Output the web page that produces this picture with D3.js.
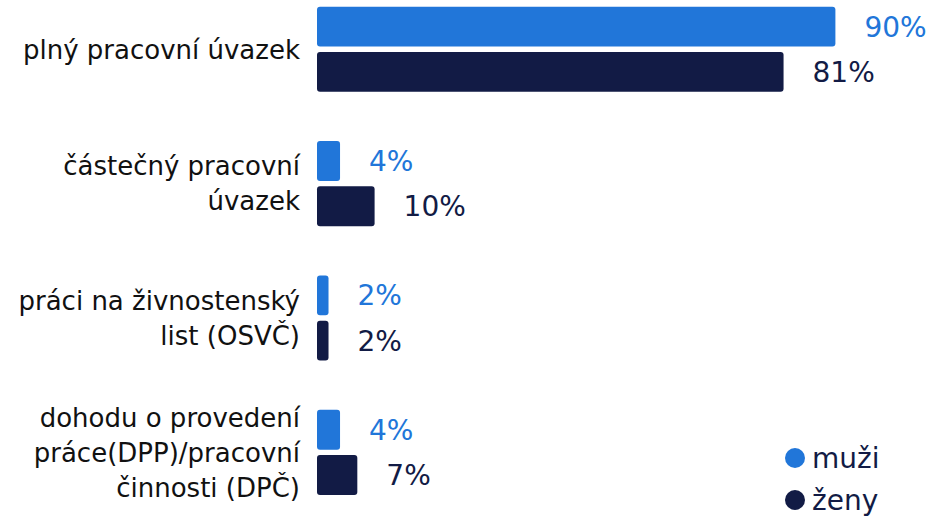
<!DOCTYPE html>
<html>
<head>
<meta charset="utf-8">
<script src="https://cdn.jsdelivr.net/npm/d3@7"></script>
<style>
	body { margin: 0; background: #fff; }
	text { font-family: "DejaVu Sans", Verdana, sans-serif; }
</style>
</head>
<body>
<svg id="chart" width="940" height="521"></svg>
<script>
	// categories (each one split into lines as in the picture)
	const categories = [
		["plný pracovní úvazek"],
		["částečný pracovní", "úvazek"],
		["práci na živnostenský", "list (OSVČ)"],
		["dohodu o provedení", "práce(DPP)/pracovní", "činnosti (DPČ)"]
	];
	const series = ["muži", "ženy"];
	const muzi = [90, 4, 2, 4];
	const zeny = [81, 10, 2, 7];
	const colors = ["#2176d9", "#121b45"];

	const svg = d3.select("#chart"),
		width = +svg.attr("width"),
		height = +svg.attr("height");

	const margin = {top: 0, right: 47, bottom: 0, left: 317};

	const x = d3.scaleLinear()
		.domain([0, 100])
		.range([margin.left, width - margin.right]);

	const y0 = d3.scaleBand()
		.domain(d3.range(categories.length))
		.range([0, 501.6])
		.paddingInner(0.367)
		.paddingOuter(0.05);

	const y1 = d3.scaleBand()
		.domain(series)
		.range([0, y0.bandwidth()])
		.paddingInner(0.118);

	const rows = categories.map((c, i) => ({
		i: i,
		values: [
			{key: "muži", value: muzi[i], color: colors[0]},
			{key: "ženy", value: zeny[i], color: colors[1]}
		]
	}));

	const group = svg.append("g")
		.selectAll("g")
		.data(rows)
		.enter().append("g")
		.attr("transform", d => `translate(0,${y0(d.i)})`);

	group.selectAll("rect")
		.data(d => d.values)
		.enter().append("rect")
		.attr("x", x(0))
		.attr("y", d => y1(d.key))
		.attr("width", d => x(d.value) - x(0))
		.attr("height", y1.bandwidth())
		.attr("rx", 3)
		.attr("fill", d => d.color);

	// value labels with a white halo
	group.selectAll("text.val")
		.data(d => d.values)
		.enter().append("text")
		.attr("class", "val")
		.attr("x", d => x(d.value) + 29)
		.attr("y", d => y1(d.key) + y1.bandwidth() / 2)
		.attr("dy", "0.36em")
		.attr("font-size", 28)
		.attr("fill", d => d.color)
		.attr("stroke", "#fff")
		.attr("stroke-width", 4)
		.attr("stroke-linejoin", "round")
		.attr("paint-order", "stroke")
		.text(d => d.value + "%");

	// category labels
	const lineH = 35;
	group.append("text")
		.attr("text-anchor", "end")
		.attr("font-size", 26)
		.attr("fill", "#111")
		.each(function (d) {
			const lines = categories[d.i];
			const mid = y0.bandwidth() / 2;
			d3.select(this).selectAll("tspan")
				.data(lines)
				.enter().append("tspan")
				.attr("x", 300)
				.attr("y", (l, k) => mid + (k - (lines.length - 1) / 2) * lineH)
				.attr("dy", "0.36em")
				.text(l => l);
		});

	// legend
	const legend = svg.append("g")
		.selectAll("g")
		.data(series)
		.enter().append("g")
		.attr("transform", (d, i) => `translate(795,${458 + i * 42})`);

	legend.append("circle")
		.attr("r", 10)
		.attr("fill", (d, i) => colors[i]);

	legend.append("text")
		.attr("x", 17)
		.attr("dy", "0.36em")
		.attr("font-size", 28)
		.attr("fill", colors[1])
		.text(d => d);
</script>
</body>
</html>
